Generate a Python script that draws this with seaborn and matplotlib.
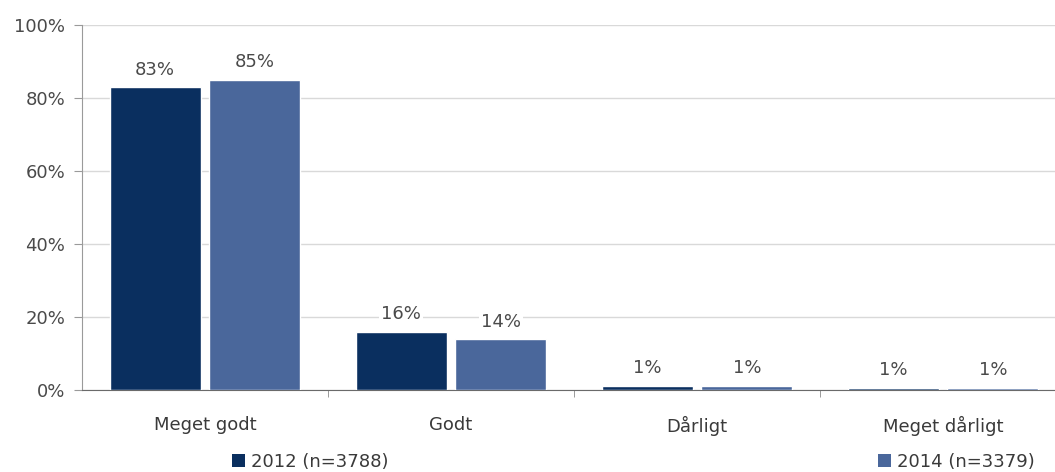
import pandas as pd
import seaborn as sns
import matplotlib.pyplot as plt
from matplotlib.patches import Patch
from matplotlib.ticker import PercentFormatter, FixedLocator

categories = ["Meget godt", "Godt", "Dårligt", "Meget dårligt"]
series_names = ["2012 (n=3788)", "2014 (n=3379)"]
values_2012 = [83, 16, 1.2, 0.6]
values_2014 = [85, 14, 1.2, 0.6]
labels_2012 = ["83%", "16%", "1%", "1%"]
labels_2014 = ["85%", "14%", "1%", "1%"]
colors = ["#0a2f5f", "#4a679b"]

df = pd.DataFrame({
    "kategori": categories * 2,
    "serie": [series_names[0]] * 4 + [series_names[1]] * 4,
    "andel": values_2012 + values_2014,
})

sns.set_style("white")
plt.rcParams["font.family"] = ["DejaVu Sans"]
text_col = "#4a4a4a"
fs = 13

fig = plt.figure(figsize=(10.55, 4.72), dpi=100)
ax = fig.add_axes([82 / 1055, 1 - 390 / 472, 984 / 1055, 365 / 472])

sns.barplot(data=df, x="kategori", y="andel", hue="serie", order=categories,
            hue_order=series_names, palette=colors, width=0.81, gap=0.09,
            saturation=1, legend=False, ax=ax, zorder=3)

ax.set_ylim(0, 100)
ax.set_xlim(-0.5, 3.5)
ax.set_yticks([0, 20, 40, 60, 80, 100])
ax.yaxis.set_major_formatter(PercentFormatter(decimals=0))
ax.yaxis.grid(True, color="#d9d9d9", linewidth=1, zorder=0)
ax.set_axisbelow(True)
ax.set_xlabel("")
ax.set_ylabel("")

for side in ["top", "right"]:
    ax.spines[side].set_visible(False)
ax.spines["left"].set_color("#9a9a9a")
ax.spines["bottom"].set_color("#6a6a6a")

ax.tick_params(axis="y", which="major", direction="out", length=6, color="#9a9a9a",
               labelsize=fs, labelcolor=text_col, pad=6, left=True)
ax.tick_params(axis="x", which="major", length=0, labelsize=fs,
               labelcolor="#3a3a3a", pad=19)
ax.xaxis.set_minor_locator(FixedLocator([0.5, 1.5, 2.5]))
ax.tick_params(axis="x", which="minor", direction="out", length=5, color="#8a8a8a",
               bottom=True)

all_labels = [labels_2012, labels_2014]
for container, labs in zip(ax.containers, all_labels):
    ax.bar_label(container, labels=labs, padding=6, fontsize=fs, color=text_col,
                 bbox=dict(facecolor="white", edgecolor="none", pad=1.5))

handles = [Patch(facecolor=c, edgecolor="none") for c in colors]
fig.legend([handles[0]], [series_names[0]], loc="center left",
           bbox_to_anchor=(216 / 1055, 1 - 462 / 472), frameon=False,
           fontsize=fs, handlelength=0.7, handleheight=0.7, handletextpad=0.35,
           labelcolor="#3a3a3a")
fig.legend([handles[1]], [series_names[1]], loc="center left",
           bbox_to_anchor=(862 / 1055, 1 - 462 / 472), frameon=False,
           fontsize=fs, handlelength=0.7, handleheight=0.7, handletextpad=0.35,
           labelcolor="#3a3a3a")

fig.savefig("out.png", dpi=100)
